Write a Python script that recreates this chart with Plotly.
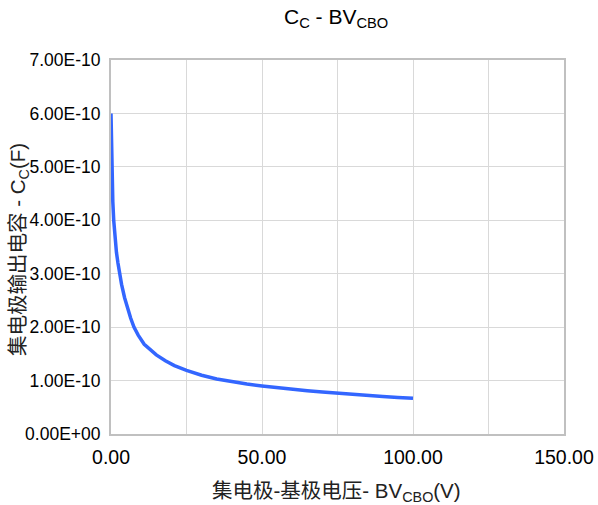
import plotly.graph_objects as go

# Data (capacitance in units of 1e-10 F)
bv_cbo_v = [0, 0.1, 0.2, 0.4, 0.6, 0.9, 1.3, 1.8, 2.3, 2.8, 3.5, 4.5, 5.5, 6.5, 7.6,
            9, 11, 13, 15, 18, 21, 25, 30, 35, 40, 45, 50, 55, 60, 65, 70, 75, 80,
            85, 90, 95, 100]
cc_e10 = [6.0, 5.5, 5.0, 4.6, 4.35, 4.0, 3.7, 3.4, 3.2, 3.0, 2.8, 2.55, 2.35, 2.17, 2.0,
          1.85, 1.68, 1.57, 1.48, 1.37, 1.28, 1.19, 1.1, 1.03, 0.98, 0.935, 0.9, 0.865,
          0.835, 0.81, 0.785, 0.76, 0.74, 0.72, 0.70, 0.685, 0.67]

x_tick_vals = [0, 50, 100, 150]
x_tick_text = ["0.00", "50.00", "100.00", "150.00"]
y_tick_vals = [0, 1, 2, 3, 4, 5, 6, 7]
y_tick_text = ["0.00E+00", "1.00E-10", "2.00E-10", "3.00E-10", "4.00E-10",
               "5.00E-10", "6.00E-10", "7.00E-10"]

W, H = 598, 505
ML, MR, MT, MB = 111, 34, 60, 71
PW, PH = W - ML - MR, H - MT - MB

fig = go.Figure()
fig.add_trace(go.Scatter(x=bv_cbo_v, y=cc_e10, mode="lines",
                         line=dict(color="#3366ff", width=3.5),
                         hoverinfo="skip", showlegend=False))

font = "Liberation Sans, Arial, Noto Sans CJK SC, sans-serif"

fig.update_layout(
    width=W, height=H,
    margin=dict(l=ML, r=MR, t=MT, b=MB),
    paper_bgcolor="white", plot_bgcolor="white",
    font=dict(family=font, color="black"),
    showlegend=False,
    xaxis=dict(range=[0, 150], tickvals=x_tick_vals, ticktext=x_tick_text,
               showgrid=True, gridcolor="#d9d9d9", gridwidth=1,
               minor=dict(tick0=0, dtick=25, showgrid=True, gridcolor="#d9d9d9",
                          gridwidth=1, ticks=""),
               showline=True, linecolor="#c0c0c0", linewidth=2, mirror=True,
               ticks="outside", ticklen=5, tickcolor="rgba(0,0,0,0)",
               tickfont=dict(size=19.5, family=font, color="black"),
               zeroline=False, automargin=False),
    yaxis=dict(range=[0, 7], tickvals=y_tick_vals, ticktext=y_tick_text,
               showgrid=True, gridcolor="#d9d9d9", gridwidth=1,
               showline=True, linecolor="#c0c0c0", linewidth=2, mirror=True,
               ticks="outside", ticklen=5, tickcolor="rgba(0,0,0,0)",
               tickfont=dict(size=17.5, family=font, color="black"),
               zeroline=False, automargin=False),
    annotations=[
        dict(text="C<sub>C</sub> - BV<sub>CBO</sub>", xref="paper", yref="paper",
             x=(336 - ML) / PW, y=((H - MB) - 18) / PH,
             xanchor="center", yanchor="middle", showarrow=False,
             font=dict(size=21, family=font, color="black")),
        dict(text="集电极输出电容 - C<sub>C</sub>(F)", xref="paper", yref="paper",
             x=(19 - ML) / PW, y=((H - MB) - 250) / PH, textangle=-90,
             xanchor="center", yanchor="middle", showarrow=False,
             font=dict(size=20.5, family=font, color="#222222")),
        dict(text="集电极-基极电压- BV<sub>CBO</sub>(V)", xref="paper", yref="paper",
             x=(336 - ML) / PW, y=-(492 - (H - MB)) / PH,
             xanchor="center", yanchor="middle", showarrow=False,
             font=dict(size=20.5, family=font, color="#222222")),
    ],
)

fig.write_html("out.html")
